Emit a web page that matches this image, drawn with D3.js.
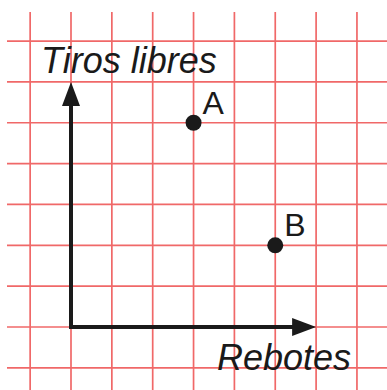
<!DOCTYPE html>
<html lang="en">
    <head>
        <meta charset="utf-8">
        <title>Tiros libres vs Rebotes</title>
        <script src="https://d3js.org/d3.v7.min.js"></script>
        <style type="text/css">
            html, body {
                margin: 0;
                padding: 0;
                background-color: white;
            }
            .label {
                font-family: "Liberation Sans", Arial, sans-serif;
                fill: #1a1a1a;
            }
        </style>
    </head>
    <body>
        <script type="text/javascript">
            // points (grid units)
            const names = ["A", "B"];
            const rebotes = [3, 5];
            const tiros = [5, 2];
            const axisMax = 6;
            const gridTicks = [-1, 0, 1, 2, 3, 4, 5, 6, 7];

            const w = 387, h = 390;
            const unit = 40.85;
            const x = d3.scaleLinear().domain([0, axisMax]).range([71, 71 + unit * axisMax]);
            const y = d3.scaleLinear().domain([0, axisMax]).range([327, 327 - unit * axisMax]);

            const svg = d3.select("body").append("svg")
                .attr("width", w)
                .attr("height", h);

            // red squared paper
            const grid = svg.append("g")
                .attr("stroke", "#f06868")
                .attr("stroke-width", 1.7);

            grid.selectAll("line.v")
                .data(gridTicks)
                .enter()
                .append("line")
                .attr("class", "v")
                .attr("x1", d => x(d)).attr("x2", d => x(d))
                .attr("y1", 12).attr("y2", h);

            grid.selectAll("line.h")
                .data(gridTicks)
                .enter()
                .append("line")
                .attr("class", "h")
                .attr("y1", d => y(d)).attr("y2", d => y(d))
                .attr("x1", 7).attr("x2", w);

            // axes with arrows
            const ax = svg.append("g");
            const ink = "#1a1a1a";
            const arrowLen = 24, arrowHalf = 9;

            ax.append("path")
                .attr("d", `M${x(0)},${y(axisMax) + arrowLen - 2}V${y(0)}H${x(axisMax) - arrowLen + 2}`)
                .attr("fill", "none")
                .attr("stroke", ink)
                .attr("stroke-width", 4);

            ax.append("path")
                .attr("d", `M${x(0)},${y(axisMax)}L${x(0) - arrowHalf},${y(axisMax) + arrowLen}L${x(0) + arrowHalf},${y(axisMax) + arrowLen}Z`)
                .attr("fill", ink);

            ax.append("path")
                .attr("d", `M${x(axisMax)},${y(0)}L${x(axisMax) - arrowLen},${y(0) - arrowHalf}L${x(axisMax) - arrowLen},${y(0) + arrowHalf}Z`)
                .attr("fill", ink);

            // axis titles
            svg.append("text")
                .attr("class", "label")
                .attr("x", 41)
                .attr("y", 73)
                .attr("font-size", 36)
                .attr("font-style", "italic")
                .text("Tiros libres");

            svg.append("text")
                .attr("class", "label")
                .attr("x", 217)
                .attr("y", 370)
                .attr("font-size", 36)
                .attr("font-style", "italic")
                .text("Rebotes");

            // points
            const pts = names.map((n, i) => ({name: n, rx: rebotes[i], ty: tiros[i]}));

            svg.selectAll("circle.pt")
                .data(pts)
                .enter()
                .append("circle")
                .attr("class", "pt")
                .attr("cx", d => x(d.rx))
                .attr("cy", d => y(d.ty))
                .attr("r", 8)
                .attr("fill", ink);

            svg.selectAll("text.pt")
                .data(pts)
                .enter()
                .append("text")
                .attr("class", "label pt")
                .attr("x", d => x(d.rx) + 9)
                .attr("y", d => y(d.ty) - 9)
                .attr("font-size", 32)
                .text(d => d.name);
        </script>
    </body>
</html>
